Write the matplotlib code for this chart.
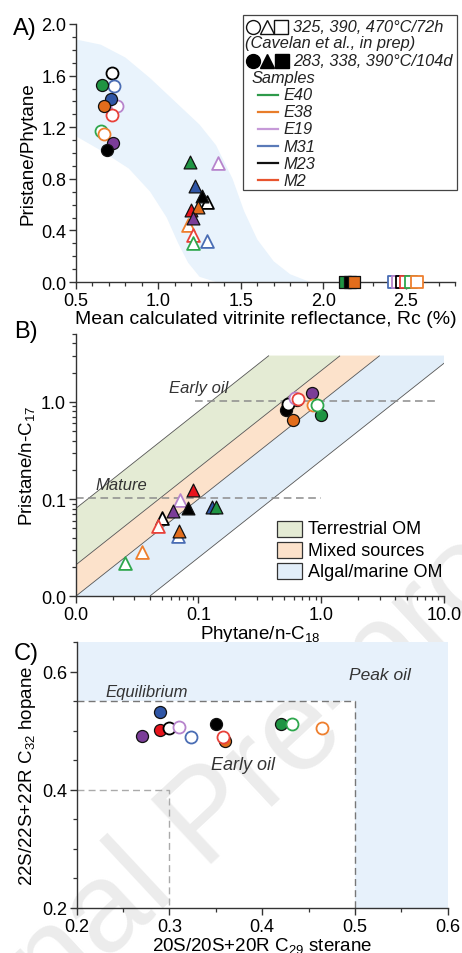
import numpy as np
import matplotlib
matplotlib.use("Agg")
import matplotlib.pyplot as plt
from matplotlib.lines import Line2D
from matplotlib.patches import Rectangle, Polygon
from matplotlib.ticker import FixedLocator, MultipleLocator, NullFormatter

plt.rcParams['font.family'] = ['Liberation Sans', 'DejaVu Sans']
plt.rcParams['mathtext.fontset'] = 'custom'
plt.rcParams['mathtext.rm'] = 'Liberation Sans'
plt.rcParams['mathtext.it'] = 'Liberation Sans:italic'

W, H = 462, 954

# sample colours: filled marker face, open marker edge, legend line
samples = ['E40', 'E38', 'E19', 'M31', 'M23', 'M2']
fill_col = {'E40': '#1f9443', 'E38': '#e26d1c', 'E19': '#7b3d98',
            'M31': '#2f56a6', 'M23': '#000000', 'M2': '#e8141c'}
open_col = {'E40': '#2ea74d', 'E38': '#ee7f2e', 'E19': '#b784cc',
            'M31': '#4a6db4', 'M23': '#000000', 'M2': '#e8413a'}
leg_col = {'E40': '#2e9a4a', 'E38': '#e87d2a', 'E19': '#c69ad8',
           'M31': '#5a7ab8', 'M23': '#111111', 'M2': '#e8542e'}

# --- A) Pristane/Phytane vs Rc ---
a_circ_f_s = ['E40', 'M31', 'E38', 'E19', 'M23']
a_circ_f_x = [0.656, 0.712, 0.670, 0.722, 0.690]
a_circ_f_y = [1.527, 1.419, 1.367, 1.078, 1.026]
a_circ_o_s = ['M23', 'M31', 'E19', 'M2', 'E40', 'E38']
a_circ_o_x = [0.716, 0.730, 0.747, 0.720, 0.650, 0.672]
a_circ_o_y = [1.620, 1.517, 1.362, 1.297, 1.168, 1.147]
a_tri_f_s = ['E40', 'M31', 'M23', 'M2', 'E38', 'E19']
a_tri_f_x = [1.191, 1.221, 1.266, 1.195, 1.241, 1.211]
a_tri_f_y = [0.928, 0.747, 0.664, 0.558, 0.579, 0.494]
a_tri_o_s = ['E19', 'M23', 'E38', 'M2', 'E40', 'M31']
a_tri_o_x = [1.362, 1.296, 1.181, 1.211, 1.211, 1.298]
a_tri_o_y = [0.920, 0.622, 0.442, 0.364, 0.300, 0.315]
a_sq_f_s = ['E40', 'M23', 'E38']
a_sq_f_x = [2.135, 2.16, 2.19]
a_sq_f_y = [0.0, 0.0, 0.0]
a_sq_o_s = ['M31', 'E19', 'M23', 'M2', 'E40', 'E38']
a_sq_o_x = [2.43, 2.455, 2.48, 2.50, 2.53, 2.57]
a_sq_o_y = [0.0, 0.0, 0.0, 0.0, 0.0, 0.0]

# maturity trend envelope
a_env_x = [0.5, 0.65, 0.8, 0.95, 1.1, 1.25, 1.35, 1.45, 1.52, 1.6, 1.7, 1.8, 1.92,
           1.35, 1.25, 1.18, 1.12, 1.05, 0.95, 0.82, 0.65, 0.5]
a_env_y = [1.88, 1.84, 1.74, 1.58, 1.40, 1.22, 1.06, 0.80, 0.55, 0.33, 0.16, 0.06, 0.0,
           0.0, 0.04, 0.15, 0.30, 0.50, 0.70, 0.88, 1.02, 1.13]

# --- B) Pristane/n-C17 vs Phytane/n-C18 ---
b_circ_f_s = ['M23', 'E38', 'M2', 'E19', 'E40']
b_circ_f_x = [0.515, 0.59, 0.63, 0.836, 1.0]
b_circ_f_y = [0.82, 0.65, 1.04, 1.24, 0.74]
b_circ_o_s = ['M23', 'E19', 'M2', 'E38', 'E40']
b_circ_o_x = [0.538, 0.61, 0.65, 0.86, 0.92]
b_circ_o_y = [0.96, 1.10, 1.08, 0.93, 0.93]
b_tri_f_s = ['M2', 'E19', 'M23', 'E38', 'M31', 'E40']
b_tri_f_x = [0.0898, 0.0617, 0.0826, 0.0693, 0.128, 0.139]
b_tri_f_y = [0.125, 0.0755, 0.0805, 0.0474, 0.0836, 0.0836]
b_tri_o_s = ['E19', 'M23', 'M2', 'M31', 'E38', 'E40']
b_tri_o_x = [0.0706, 0.050, 0.0471, 0.0686, 0.0344, 0.0252]
b_tri_o_y = [0.099, 0.0646, 0.0533, 0.0415, 0.0286, 0.0221]

# source fields bounded by Pr/nC17 = k * Ph/nC18
b_field_names = ['Terrestrial OM', 'Mixed sources', 'Algal/marine OM']
b_field_hi = [8.0, 2.1, 1.0]
b_field_lo = [2.1, 1.0, 0.25]
b_field_col = ['#e4ebd4', '#fce2cb', '#e2eef9']
b_field_top = 3.0

# --- C) hopane vs sterane isomerisation ---
c_circ_f_s = ['M31', 'E19', 'M2', 'M23', 'E38', 'E40']
c_circ_f_x = [0.290, 0.270, 0.290, 0.350, 0.360, 0.420]
c_circ_f_y = [0.531, 0.491, 0.501, 0.511, 0.482, 0.511]
c_circ_o_s = ['M23', 'E19', 'M31', 'M2', 'E40', 'E38']
c_circ_o_x = [0.2995, 0.310, 0.323, 0.358, 0.432, 0.464]
c_circ_o_y = [0.505, 0.506, 0.489, 0.489, 0.511, 0.505]


def fr(x, y):
    return x / W, 1 - y / H


def make_axes(l, t, r, b):
    return fig.add_axes([l / W, 1 - b / H, (r - l) / W, (b - t) / H])


def style(ax):
    for s in ['top', 'right']:
        ax.spines[s].set_visible(False)
    for s in ['left', 'bottom']:
        ax.spines[s].set_linewidth(1.0)
        ax.spines[s].set_color('#333333')
    ax.tick_params(which='major', direction='out', length=5, width=1.0,
                   labelsize=13, color='#333333', pad=2)
    ax.tick_params(which='minor', direction='out', length=3, width=0.9,
                   color='#333333')
    ax.set_facecolor('none')


def pts(ax, s, x, y, marker, size, filled, z=4):
    for si, xi, yi in zip(s, x, y):
        if filled:
            ax.scatter(xi, yi, s=size, marker=marker, facecolor=fill_col[si],
                       edgecolor='#111111', linewidth=0.9, zorder=z, clip_on=False)
        else:
            ax.scatter(xi, yi, s=size, marker=marker, facecolor='white',
                       edgecolor=open_col[si], linewidth=1.3, zorder=z, clip_on=False)


fig = plt.figure(figsize=(W / 100, H / 100), dpi=100)

# watermark across the lower panel
fig.text(*fr(210, 820), 'Journal Pre-proof', rotation=43, fontsize=92,
         color='#ececec', ha='center', va='center', zorder=-5)

# ---------------- A ----------------
axA = make_axes(76, 25, 455, 283)
style(axA)
axA.add_patch(Polygon(np.column_stack([a_env_x, a_env_y]), closed=True,
                      facecolor='#e9f3fc', edgecolor='none', zorder=0))
pts(axA, a_circ_o_s, a_circ_o_x, a_circ_o_y, 'o', 75, False, 4)
pts(axA, a_circ_f_s, a_circ_f_x, a_circ_f_y, 'o', 75, True, 5)
pts(axA, a_tri_o_s, a_tri_o_x, a_tri_o_y, '^', 85, False, 4)
pts(axA, a_tri_f_s, a_tri_f_x, a_tri_f_y, '^', 85, True, 5)
pts(axA, a_sq_f_s, a_sq_f_x, a_sq_f_y, 's', 70, True, 5)
pts(axA, a_sq_o_s, a_sq_o_x, a_sq_o_y, 's', 70, False, 5)
axA.set_xlim(0.5, 2.8)
axA.set_ylim(0.0, 2.0)
axA.xaxis.set_major_locator(FixedLocator([0.5, 1.0, 1.5, 2.0, 2.5]))
axA.xaxis.set_minor_locator(MultipleLocator(0.1))
axA.yaxis.set_major_locator(MultipleLocator(0.4))
axA.yaxis.set_minor_locator(MultipleLocator(0.1))
axA.xaxis.set_major_formatter(lambda v, p: f'{v:.1f}')
axA.yaxis.set_major_formatter(lambda v, p: f'{v:.1f}')
axA.set_ylabel('Pristane/Phytane', fontsize=13.5, labelpad=3)
axA.set_xlabel('Mean calculated vitrinite reflectance, Rc (%)', fontsize=14, labelpad=1)
fig.text(*fr(13, 29), 'A)', fontsize=17, ha='left', va='center')

# legend box for A
fig.add_artist(Rectangle(fr(243, 191), 214 / W, 175 / H, transform=fig.transFigure,
                         facecolor='white', edgecolor='#444444', linewidth=0.9, zorder=6))
for (px, mk) in [(253, 'o'), (267, '^'), (281, 's')]:
    fig.add_artist(Line2D([px / W], [1 - 27.7 / H], marker=mk, markersize=10,
                          markerfacecolor='white', markeredgecolor='#111111',
                          markeredgewidth=1.0, linestyle='none',
                          transform=fig.transFigure, zorder=7))
for (px, mk) in [(253, 'o'), (267, '^'), (282, 's')]:
    fig.add_artist(Line2D([px / W], [1 - 61.7 / H], marker=mk, markersize=10,
                          markerfacecolor='#000000', markeredgecolor='#000000',
                          linestyle='none', transform=fig.transFigure, zorder=7))
leg_kw = dict(fontsize=11.8, style='italic', va='center', ha='left', zorder=7,
              color='#222222')
fig.text(*fr(293, 27.7), '325, 390, 470°C/72h', **leg_kw)
fig.text(*fr(245, 43.5), '(Cavelan et al., in prep)', **leg_kw)
fig.text(*fr(293, 61.7), '283, 338, 390°C/104d', **leg_kw)
fig.text(*fr(252, 78.5), 'Samples', **leg_kw)
for i, s in enumerate(samples):
    yy = 95.7 + i * 17.1
    fig.add_artist(Line2D([258 / W, 278 / W], [1 - yy / H] * 2, color=leg_col[s],
                          linewidth=1.6, transform=fig.transFigure, zorder=7))
    fig.text(*fr(283, yy), s, **leg_kw)

# ---------------- B ----------------
axB = make_axes(75.7, 335, 444, 597.3)
style(axB)
axB.set_xscale('log')
axB.set_yscale('log')
xx = np.logspace(-2, 1, 400)
for name, hi, lo, col in zip(b_field_names, b_field_hi, b_field_lo, b_field_col):
    axB.fill_between(xx, np.minimum(lo * xx, b_field_top), np.minimum(hi * xx, b_field_top),
                     where=lo * xx < b_field_top, facecolor=col, edgecolor='none', zorder=0)
for k in sorted(set(b_field_hi + b_field_lo)):
    xs = xx[(k * xx <= b_field_top) & (k * xx >= 0.01)]
    axB.plot(xs, k * xs, color='#555555', linewidth=0.6, zorder=1)
axB.plot([0.093, 8.9], [1.03, 1.03], color='#8c8c8c', linestyle=(0, (5, 3)),
         linewidth=1.1, zorder=2)
axB.plot([0.01, 1.0], [0.103, 0.103], color='#8c8c8c', linestyle=(0, (5, 3)),
         linewidth=1.1, zorder=2)
axB.text(0.058, 1.4, 'Early oil', fontsize=12, style='italic', color='#333333',
         ha='left', va='center')
axB.text(0.0144, 0.142, 'Mature', fontsize=12, style='italic', color='#333333',
         ha='left', va='center')
pts(axB, b_tri_o_s, b_tri_o_x, b_tri_o_y, '^', 85, False, 4)
pts(axB, b_tri_f_s, b_tri_f_x, b_tri_f_y, '^', 85, True, 5)
pts(axB, b_circ_f_s, b_circ_f_x, b_circ_f_y, 'o', 75, True, 4)
pts(axB, b_circ_o_s, b_circ_o_x, b_circ_o_y, 'o', 75, False, 5)
axB.set_xlim(0.01, 10)
axB.set_ylim(0.01, 5)
axB.xaxis.set_major_locator(FixedLocator([0.01, 0.1, 1, 10]))
axB.yaxis.set_major_locator(FixedLocator([0.01, 0.1, 1]))
axB.xaxis.set_major_formatter(lambda v, p: {0.01: '0.0', 0.1: '0.1', 1: '1.0', 10: '10.0'}.get(round(v, 3), ''))
axB.yaxis.set_major_formatter(lambda v, p: {0.01: '0.0', 0.1: '0.1', 1: '1.0'}.get(round(v, 3), ''))
axB.xaxis.set_minor_formatter(NullFormatter())
axB.yaxis.set_minor_formatter(NullFormatter())
axB.set_ylabel('Pristane/n-C$_{17}$', fontsize=13.5, labelpad=3)
axB.set_xlabel('Phytane/n-C$_{18}$', fontsize=13.5, labelpad=0)
fig.text(*fr(14, 332), 'B)', fontsize=17, ha='left', va='center')
for i, (name, col) in enumerate(zip(b_field_names, b_field_col)):
    yy = 530 + i * 21.2
    fig.add_artist(Rectangle(fr(277, yy + 8), 25 / W, 16 / H, transform=fig.transFigure,
                             facecolor=col, edgecolor='#333333', linewidth=0.9, zorder=6))
    fig.text(*fr(308, yy), name, fontsize=13, ha='left', va='center', zorder=6)

# ---------------- C ----------------
axC = make_axes(76.7, 643, 447.7, 909)
style(axC)
axC.add_patch(Polygon([(0.2, 0.55), (0.5, 0.55), (0.5, 0.2), (0.6, 0.2), (0.6, 0.65), (0.2, 0.65)],
                      closed=True, facecolor='#e7f1fb', edgecolor='none', zorder=0))
axC.plot([0.2, 0.5, 0.5], [0.55, 0.55, 0.2], color='#777777', linestyle=(0, (5, 3)),
         linewidth=1.0, zorder=1)
axC.plot([0.2, 0.3, 0.3], [0.4, 0.4, 0.2], color='#aaaaaa', linestyle=(0, (5, 3)),
         linewidth=1.0, zorder=1)
axC.text(0.527, 0.595, 'Peak oil', fontsize=12.5, style='italic', color='#333333',
         ha='center', va='center')
axC.text(0.231, 0.567, 'Equilibrium', fontsize=12, style='italic', color='#333333',
         ha='left', va='center')
axC.text(0.379, 0.442, 'Early oil', fontsize=13, style='italic', color='#333333',
         ha='center', va='center')
pts(axC, c_circ_f_s, c_circ_f_x, c_circ_f_y, 'o', 75, True, 4)
pts(axC, c_circ_o_s, c_circ_o_x, c_circ_o_y, 'o', 75, False, 5)
axC.set_xlim(0.2, 0.6)
axC.set_ylim(0.2, 0.65)
axC.xaxis.set_major_locator(MultipleLocator(0.1))
axC.xaxis.set_minor_locator(MultipleLocator(0.05))
axC.yaxis.set_major_locator(FixedLocator([0.2, 0.4, 0.6]))
axC.yaxis.set_minor_locator(MultipleLocator(0.05))
axC.xaxis.set_major_formatter(lambda v, p: f'{v:.1f}')
axC.yaxis.set_major_formatter(lambda v, p: f'{v:.1f}')
axC.set_ylabel('22S/22S+22R C$_{32}$ hopane', fontsize=13.5, labelpad=3)
axC.set_xlabel('20S/20S+20R C$_{29}$ sterane', fontsize=13.5, labelpad=0)
fig.text(*fr(14, 654), 'C)', fontsize=17, ha='left', va='center')

fig.savefig('out.png', dpi=100)
